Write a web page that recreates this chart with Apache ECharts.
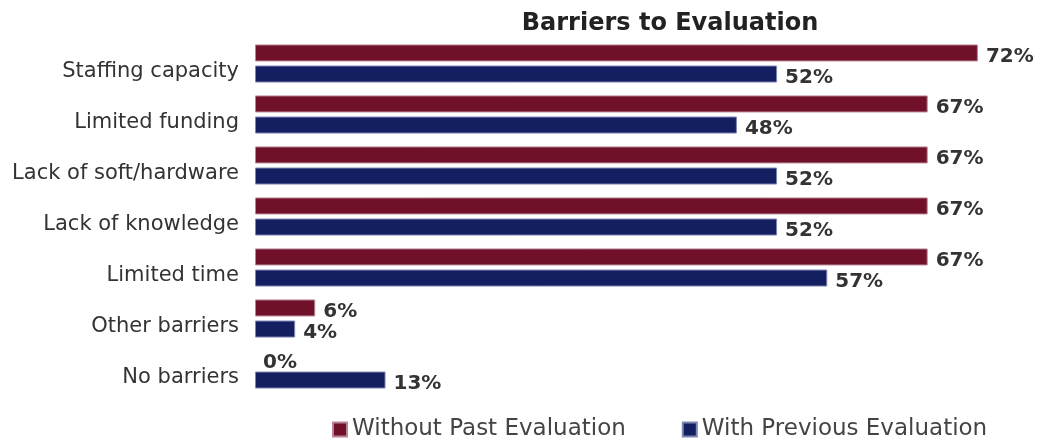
<!DOCTYPE html>
<html>
<head>
<meta charset="utf-8">
<script src="https://cdn.jsdelivr.net/npm/echarts@6/dist/echarts.min.js"></script>
<style>
  html, body { margin: 0; padding: 0; background: #fff; }
  #chart { width: 1038px; height: 440px; }
</style>
</head>
<body>
<div id="chart"></div>
<script>
// categories from top to bottom
const categories = [
  "Staffing capacity",
  "Limited funding",
  "Lack of soft/hardware",
  "Lack of knowledge",
  "Limited time",
  "Other barriers",
  "No barriers"
];
const withoutPast = [72, 67, 67, 67, 67, 6, 0];
const withPrevious = [52, 48, 52, 52, 57, 4, 13];
const seriesNames = ["Without Past Evaluation", "With Previous Evaluation"];

const FONT = "DejaVu Sans";

const chart = echarts.init(document.getElementById("chart"));

function barSeries(name, values, color, border) {
  return {
    name: name,
    type: "bar",
    // a zero bar should not leave a border stub
    data: values.map(v => v === 0 ? { value: v, itemStyle: { borderWidth: 0 } } : v),
    barWidth: 17,
    barGap: "24%",
    itemStyle: { color: color, borderColor: border, borderWidth: 1 },
    label: {
      show: true,
      position: "right",
      distance: 8,
      offset: [0, 4],
      formatter: "{c}%",
      fontFamily: FONT,
      fontSize: 20,
      fontWeight: 600,
      color: "#333"
    }
  };
}

chart.setOption({
  animation: false,
  title: {
    text: "Barriers to Evaluation",
    left: 665,
    textAlign: "center",
    top: 7,
    textStyle: { fontFamily: FONT, fontSize: 24, fontWeight: "bold", color: "#222" }
  },
  legend: {
    data: seriesNames,
    orient: "horizontal",
    left: 327,
    top: 413,
    itemWidth: 14,
    itemHeight: 14,
    itemGap: 56,
    icon: "rect",
    textStyle: { fontFamily: FONT, fontSize: 23, color: "#444" }
  },
  grid: { left: 255, top: 38, width: 753, height: 357, containLabel: false },
  xAxis: {
    type: "value",
    min: 0,
    max: 75,
    show: false
  },
  yAxis: {
    type: "category",
    data: categories,
    inverse: true,
    axisLine: { show: false },
    axisTick: { show: false },
    axisLabel: {
      margin: 16,
      verticalAlign: "top",
      lineHeight: 16,
      fontFamily: FONT,
      fontSize: 21,
      color: "#333"
    }
  },
  series: [
    barSeries(seriesNames[0], withoutPast, "#701029", "#b98496"),
    barSeries(seriesNames[1], withPrevious, "#141f62", "#7f86b0")
  ]
});
</script>
</body>
</html>
